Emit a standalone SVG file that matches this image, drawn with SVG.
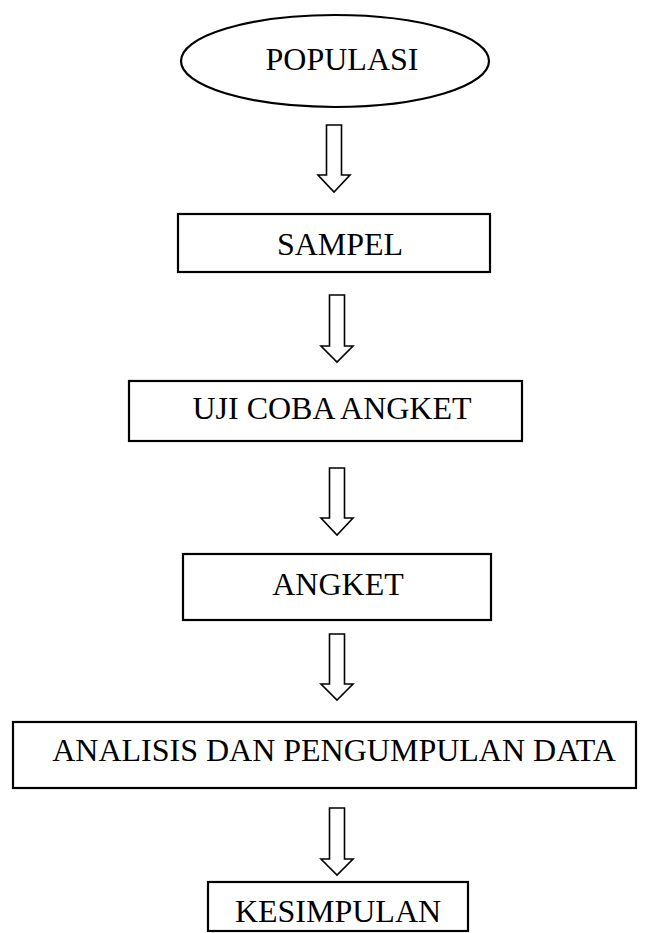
<svg xmlns="http://www.w3.org/2000/svg" width="651" height="933" viewBox="0 0 651 933">
<style>
.box{fill:#fff;stroke:#000;stroke-width:2.2}
.arr{fill:#fff;stroke:#000;stroke-width:1.6;stroke-linejoin:miter}
.t{font-family:"Liberation Serif","Times New Roman",serif;font-size:32px;fill:#000;text-anchor:middle}
</style>
<rect width="651" height="933" fill="#fff"/>
<g id="populasi">
<ellipse class="box" cx="335" cy="61" rx="154" ry="46"/>
<text class="t" x="342" y="70">POPULASI</text>
</g>
<g id="sampel">
<rect class="box" x="178" y="214" width="312" height="58"/>
<text class="t" x="340" y="255">SAMPEL</text>
</g>
<g id="uji">
<rect class="box" x="129" y="381" width="393" height="60"/>
<text class="t" x="332" y="419">UJI COBA ANGKET</text>
</g>
<g id="angket">
<rect class="box" x="183" y="554" width="308" height="66"/>
<text class="t" x="338" y="595">ANGKET</text>
</g>
<g id="analisis">
<rect class="box" x="13" y="722" width="623" height="66"/>
<text class="t" x="334" y="761">ANALISIS DAN PENGUMPULAN DATA</text>
</g>
<g id="kesimpulan">
<rect class="box" x="208" y="882" width="260" height="49"/>
<text class="t" x="338" y="922">KESIMPULAN</text>
</g>
<g id="connectors">
<path class="arr" d="M326.5,125 H341.5 V175 H350 L334,192 L318,175 H326.5 Z"/>
<path class="arr" d="M329.5,295 H344.5 V346 H353 L337,362 L321,346 H329.5 Z"/>
<path class="arr" d="M329.5,468 H344.5 V518 H353 L337,535 L321,518 H329.5 Z"/>
<path class="arr" d="M329.5,634 H344.5 V684 H353 L337,700 L321,684 H329.5 Z"/>
<path class="arr" d="M329.5,808 H344.5 V859 H353 L337,875 L321,859 H329.5 Z"/>
</g>
</svg>
